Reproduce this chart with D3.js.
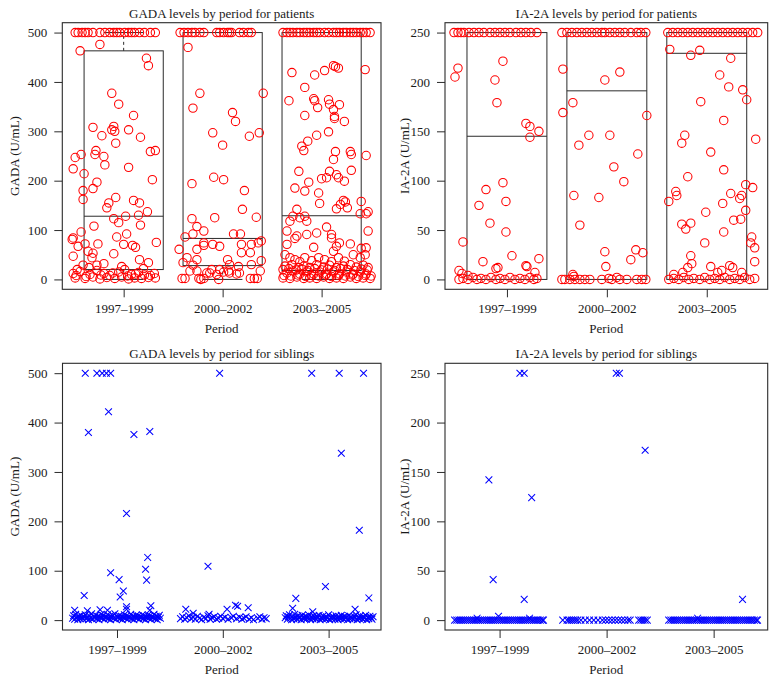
<!DOCTYPE html>
<html><head><meta charset="utf-8">
<script src="https://cdn.jsdelivr.net/npm/d3@7"></script>
<style>body{margin:0;background:#fff}svg{display:block}</style>
</head><body><svg id="c" width="776" height="682"></svg>
<script>
// ---------- DATA ----------
const periods = ["1997–1999", "2000–2002", "2003–2005"];
const gadaTicks = [0, 100, 200, 300, 400, 500];
const ia2aTicks = [0, 50, 100, 150, 200, 250];

// box stats: [lower whisker, Q1, median, Q3, upper whisker]
const gadaPatientBoxes = [[0, 20, 128, 463, 500], [0, 28, 83, 500, 500], [0, 18, 129, 500, 500]];
const ia2aPatientBoxes = [[0, 0, 145, 250, 250], [0, 0, 191, 250, 250], [0, 0, 229, 250, 250]];

// points: [jitter offset from period centre, value]
const gadaPatients1997 = [
  [-0.49,500],[-0.46,500],[-0.42,500],[-0.39,500],[-0.36,500],[-0.31,500],[-0.24,500],[-0.19,500],[-0.14,500],[-0.10,500],
  [-0.07,500],[-0.04,500],[0.01,500],[0.05,500],[0.08,500],[0.11,500],[0.16,500],[0.21,500],[0.27,500],[0.32,500],
  [-0.44,463],[-0.24,476],[0.23,448],[0.25,433],[-0.12,377],[-0.05,355],[0.10,332],[-0.31,308],[-0.22,291],[-0.12,303],
  [-0.09,300],[-0.10,310],[0.05,303],[0.17,288],[-0.08,276],[0.27,259],[0.32,261],[-0.49,247],[-0.43,253],[-0.51,224],
  [-0.28,261],[-0.29,253],[-0.20,249],[-0.19,232],[-0.40,214],[0.05,227],[-0.27,197],[-0.31,184],[-0.41,180],[-0.41,162],
  [-0.08,166],[-0.15,155],[-0.17,145],[0.10,160],[0.16,155],[0.29,202],[0.24,137],[0.15,130],[0.02,128],[-0.10,123],
  [-0.05,115],[0.17,110],[-0.30,108],[-0.43,96],[-0.51,84],[-0.52,81],[0.03,92],[-0.07,86],[-0.26,72],[-0.39,72],
  [-0.46,67],[0.00,71],[0.09,69],[0.12,65],[0.33,75],[-0.36,57],[-0.31,53],[-0.51,47],[-0.32,44],[-0.10,52],
  [-0.20,32],[0.16,40],[0.25,34],[-0.27,29],[-0.41,29],[-0.35,24],[-0.02,26],[0.20,22],[-0.47,20],
  [-0.51,12],[-0.44,16],[-0.34,10],[-0.27,18],[-0.20,12],[-0.14,8],[-0.05,15],[0.01,20],[0.08,10],[0.15,14],[0.21,9],
  [-0.48,8],[-0.38,6],[-0.23,9],[-0.11,13],[0.04,7],[0.12,11],[0.27,8],[0.31,12],
  [-0.49,3],[-0.39,2],[-0.31,5],[-0.24,1],[-0.17,4],[-0.09,2],[-0.02,5],[0.05,1],[0.11,3],[0.18,2],[0.25,4],[0.32,3]
];
const gadaPatients2000 = [
  [-0.43,500],[-0.39,500],[-0.35,500],[-0.31,500],[-0.28,500],[-0.23,500],[-0.19,500],[-0.06,500],[-0.03,500],[0.01,500],
  [0.05,500],[0.07,500],[0.09,500],[0.17,500],[0.21,500],[0.26,500],[0.29,500],
  [-0.35,470],[-0.23,377],[0.41,377],[-0.30,347],[0.10,338],[0.13,320],[-0.10,297],[0.27,290],[0.37,297],
  [0.00,272],[-0.31,194],[-0.09,207],[0.01,202],[0.22,180],[0.20,142],[0.34,126],[-0.31,123],[-0.08,125],[-0.26,107],
  [-0.30,92],[-0.19,98],[0.11,92],[0.18,92],[-0.38,86],[0.39,78],[0.36,74],[0.29,71],[-0.44,61],[-0.26,61],
  [-0.19,74],[-0.19,69],[-0.10,71],[-0.03,67],[0.19,71],[0.19,54],[0.28,54],[-0.36,44],[-0.26,40],[0.05,40],
  [0.07,30],[0.16,26],[-0.40,34],[-0.30,29],[0.39,38],[0.29,30],
  [-0.41,2],[-0.38,2],[-0.24,2],[-0.22,0],[-0.19,2],[-0.16,13],[-0.13,13],[-0.06,10],[-0.03,20],[0.01,15],
  [0.06,17],[0.07,13],[0.14,11],[0.17,13],[0.28,2],[0.32,2],[0.35,2],[0.38,17],[-0.33,17],[-0.26,17],[-0.11,20],[-0.04,0]
];
const gadaPatients2003 = [
  [-0.39,500],[-0.35,500],[-0.32,500],[-0.29,500],[-0.25,500],[-0.22,500],[-0.18,500],[-0.15,500],[-0.12,500],[-0.08,500],
  [-0.05,500],[-0.02,500],[0.03,500],[0.07,500],[0.12,500],[0.15,500],[0.18,500],[0.22,500],[0.25,500],[0.29,500],
  [0.32,500],[0.35,500],[0.39,500],[0.42,500],[0.45,500],[0.49,500],
  [-0.30,419],[-0.07,414],[0.03,423],[0.12,433],[0.14,431],[0.17,428],[0.44,425],[-0.17,389],[-0.33,362],[-0.08,366],
  [-0.07,362],[-0.04,348],[0.07,364],[0.08,355],[0.18,354],[-0.17,332],[0.12,344],[0.13,330],[0.13,326],[0.23,320],
  [-0.05,292],[0.07,299],[-0.20,270],[-0.18,261],[-0.14,280],[0.14,259],[0.29,259],[0.30,253],[0.45,251],[0.12,243],
  [-0.23,219],[-0.13,197],[-0.27,185],[-0.17,179],[-0.03,175],[-0.02,154],[0.00,204],[0.05,206],[0.08,219],[0.15,212],
  [0.17,206],[0.23,199],[0.30,221],[0.22,160],[0.24,157],[0.19,152],[0.26,145],[0.15,143],[0.40,158],[0.39,133],
  [0.47,137],[0.45,133],[-0.25,142],[-0.29,128],[-0.22,125],[-0.17,128],[-0.15,118],[-0.32,118],[-0.35,98],[-0.25,88],
  [-0.27,83],[-0.15,91],[-0.05,94],[0.05,106],[0.10,91],[0.10,84],[0.47,98],[-0.35,71],[-0.08,65],[0.12,57],
  [0.15,67],[0.18,74],[0.29,72],[0.40,63],[0.45,64],
  [-0.37,50],[-0.32,44],[-0.27,40],[-0.22,36],[-0.17,44],[-0.10,38],[-0.03,44],[0.03,40],[0.10,36],[0.17,44],
  [0.23,37],[0.32,50],[0.39,44],[0.44,50],
  [-0.37,27],[-0.30,30],[-0.23,24],[-0.18,27],[-0.12,24],[-0.05,30],[0.02,25],[0.08,29],[0.15,24],[0.22,27],
  [0.29,30],[0.35,25],[0.42,29],[0.47,24],
  [-0.39,20],[-0.33,22],[-0.26,19],[-0.20,21],[-0.14,18],[-0.07,22],[0.00,19],[0.06,21],[0.13,18],[0.19,22],
  [0.26,20],[0.33,18],[0.40,21],[0.46,19],
  [-0.35,13],[-0.29,17],[-0.22,11],[-0.15,15],[-0.08,11],[-0.02,15],[0.05,11],[0.12,15],[0.18,11],[0.25,15],
  [0.32,11],[0.39,15],[0.45,11],
  [-0.38,8],[-0.31,7],[-0.24,9],[-0.16,6],[-0.10,8],[-0.03,7],[0.04,9],[0.10,6],[0.17,8],[0.24,7],
  [0.31,9],[0.37,6],[0.44,8],[0.50,7],
  [-0.39,3],[-0.32,2],[-0.25,5],[-0.18,2],[-0.12,3],[-0.05,2],[0.02,5],[0.08,2],[0.15,3],[0.22,2],
  [0.29,5],[0.35,2],[0.42,3],[0.49,2]
];

const ia2aPatients1997 = [
  [-0.53,250],[-0.49,250],[-0.46,250],[-0.43,250],[-0.38,250],[-0.33,250],[-0.28,250],[-0.23,250],[-0.17,250],[-0.12,250],
  [-0.07,250],[-0.02,250],[0.03,250],[0.09,250],[0.14,250],[0.19,250],[0.24,250],[0.30,250],
  [-0.52,205],[-0.49,214],[-0.04,221],[-0.12,202],[-0.10,179],[0.19,158],[0.23,155],[0.23,144],[0.32,150],[-0.44,38],
  [-0.28,75],[-0.21,91],[-0.17,57],[-0.04,98],[-0.01,79],[-0.01,48],[-0.24,18],[-0.11,11],[-0.09,12],[0.05,24],
  [0.19,14],[0.20,13],[0.32,21],[0.28,7],[-0.48,9],[-0.45,6],[-0.39,4],
  [-0.48,0],[-0.44,1],[-0.39,0],[-0.34,2],[-0.30,0],[-0.26,1],[-0.21,0],[-0.16,2],[-0.11,0],[-0.07,1],
  [-0.02,0],[0.03,2],[0.08,0],[0.13,1],[0.18,0],[0.23,2],[0.27,0],[0.30,1]
];
const ia2aPatients2000 = [
  [-0.45,250],[-0.40,250],[-0.35,250],[-0.30,250],[-0.25,250],[-0.20,250],[-0.15,250],[-0.10,250],[-0.05,250],[-0.02,250],
  [0.03,250],[0.08,250],[0.13,250],[0.18,250],[0.24,250],[0.30,250],[0.34,250],[0.39,250],
  [-0.44,213],[-0.44,169],[-0.34,179],[-0.28,136],[-0.18,146],[-0.33,85],[-0.27,55],[-0.08,83],[-0.02,202],[0.13,210],
  [0.03,146],[0.07,114],[0.17,99],[0.31,127],[0.40,166],[-0.02,28],[-0.01,13],[0.24,20],[0.29,30],[0.36,27],
  [-0.34,5],[-0.33,3],
  [-0.45,0],[-0.42,0],[-0.37,0],[-0.32,0],[-0.27,0],[-0.22,0],[-0.17,0],[-0.05,0],[0.02,1],[0.05,0],
  [0.10,2],[0.13,0],[0.20,0],[0.30,0],[0.35,0],[0.39,0]
];
const ia2aPatients2003 = [
  [-0.39,250],[-0.34,250],[-0.29,250],[-0.24,250],[-0.19,250],[-0.14,250],[-0.09,250],[-0.04,250],[0.01,250],[0.06,250],
  [0.11,250],[0.16,250],[0.21,250],[0.26,250],[0.31,250],[0.36,250],[0.41,250],[0.46,250],[0.51,250],
  [-0.37,233],[-0.16,227],[-0.07,232],[0.24,224],[0.13,207],[-0.06,180],[0.22,195],[0.36,192],[0.40,182],[0.17,161],
  [-0.22,146],[-0.25,138],[0.49,142],[0.04,129],[0.17,111],[-0.19,104],[-0.38,79],[-0.31,89],[-0.30,85],[0.24,87],
  [0.39,96],[0.46,93],[0.33,82],[0.35,85],[0.16,77],[0.39,70],[-0.01,68],[0.27,60],[0.34,61],[-0.25,56],
  [-0.21,51],[-0.16,57],[0.17,48],[-0.02,37],[0.45,43],[0.44,37],[0.48,32],[0.48,18],[-0.16,24],[-0.15,16],
  [-0.19,12],[0.04,13],[0.23,14],[0.26,12],[0.15,9],[0.11,7],[0.35,7],[-0.24,7],[-0.33,5],
  [-0.38,0],[-0.33,1],[-0.28,0],[-0.23,2],[-0.18,0],[-0.13,1],[-0.07,0],[-0.02,2],[0.03,0],[0.08,1],
  [0.13,0],[0.18,2],[0.23,0],[0.28,1],[0.33,0],[0.38,2],[0.43,0],[0.48,1]
];

const gadaSiblings1997 = [
  [-0.30,500],[-0.19,500],[-0.14,500],[-0.10,500],[-0.06,500],[-0.27,380],[-0.08,422],[0.16,376],[0.31,382],[0.09,216],
  [-0.06,96],[0.02,82],[0.03,47],[0.06,59],[0.09,27],[0.29,127],[0.27,103],[0.28,81],[0.32,29],[-0.31,50],
  [-0.40,20],[-0.28,19],[-0.16,21],[-0.09,20],[0.09,22],[0.31,20],
  [-0.42,4],[-0.41,9],[-0.40,2],[-0.39,12],[-0.38,6],[-0.37,1],[-0.36,8],[-0.35,3],[-0.34,10],[-0.33,5],
  [-0.32,2],[-0.31,7],[-0.30,11],[-0.29,3],[-0.28,6],[-0.27,1],[-0.26,9],[-0.25,4],[-0.24,13],[-0.23,2],
  [-0.22,7],[-0.21,5],[-0.20,10],[-0.19,3],[-0.18,8],[-0.17,1],[-0.16,6],[-0.15,12],[-0.14,4],[-0.13,9],
  [-0.12,2],[-0.11,7],[-0.10,5],[-0.09,11],[-0.08,3],[-0.07,8],[-0.06,1],[-0.05,6],[-0.04,10],[-0.03,4],
  [-0.02,13],[-0.01,2],[0.00,7],[0.01,5],[0.02,9],[0.03,3],[0.04,8],[0.05,1],[0.06,6],[0.07,11],
  [0.08,4],[0.09,9],[0.10,2],[0.11,7],[0.12,5],[0.13,12],[0.14,3],[0.15,8],[0.16,1],[0.17,6],
  [0.18,10],[0.19,4],[0.20,9],[0.21,2],[0.22,7],[0.23,5],[0.24,11],[0.25,3],[0.26,8],[0.27,1],
  [0.28,6],[0.29,10],[0.30,4],[0.31,9],[0.32,2],[0.33,7],[0.34,5],[0.35,12],[0.36,3],[0.37,8],
  [0.38,1],[0.39,6],[0.40,10],[0.41,4]
];
const gadaSiblings2000 = [
  [-0.03,500],[-0.14,109],[-0.35,22],[-0.28,14],[0.04,22],[0.12,30],[0.14,28],[0.24,25],[-0.13,12],
  [-0.40,3],[-0.38,7],[-0.36,2],[-0.34,5],[-0.32,9],[-0.30,3],[-0.28,6],[-0.26,2],[-0.24,8],[-0.22,4],
  [-0.20,1],[-0.18,6],[-0.16,3],[-0.14,9],[-0.12,2],[-0.10,5],[-0.08,7],[-0.06,2],[-0.04,4],[-0.02,8],
  [0.00,3],[0.02,6],[0.05,2],[0.08,5],[0.10,8],[0.13,3],[0.16,6],[0.18,2],[0.20,4],[0.22,7],
  [0.25,2],[0.27,5],[0.29,1],[0.33,4],[0.35,7],[0.37,2],[0.39,5],[0.41,3]
];
const gadaSiblings2003 = [
  [-0.16,500],[0.10,500],[0.33,500],[0.12,338],[0.29,182],[-0.03,68],[-0.31,44],[0.38,45],[-0.34,24],[0.25,22],[-0.15,17],
  [-0.41,5],[-0.40,9],[-0.39,2],[-0.38,7],[-0.37,11],[-0.36,4],[-0.35,1],[-0.34,8],[-0.33,3],[-0.32,12],
  [-0.31,6],[-0.30,2],[-0.29,9],[-0.28,4],[-0.27,7],[-0.26,1],[-0.25,10],[-0.24,5],[-0.23,3],[-0.22,8],
  [-0.21,2],[-0.20,6],[-0.19,11],[-0.18,4],[-0.17,1],[-0.16,7],[-0.15,3],[-0.14,9],[-0.13,5],[-0.12,2],
  [-0.11,8],[-0.10,4],[-0.09,10],[-0.08,1],[-0.07,6],[-0.06,3],[-0.05,9],[-0.04,5],[-0.03,2],[-0.02,7],
  [-0.01,4],[0.00,11],[0.01,1],[0.02,6],[0.03,3],[0.04,8],[0.05,5],[0.06,2],[0.07,9],[0.08,4],
  [0.09,1],[0.10,7],[0.11,3],[0.12,10],[0.13,5],[0.14,2],[0.15,8],[0.16,4],[0.17,6],[0.18,1],
  [0.19,9],[0.20,3],[0.21,7],[0.22,5],[0.23,2],[0.24,8],[0.25,4],[0.26,11],[0.27,1],[0.28,6],
  [0.29,3],[0.30,9],[0.31,5],[0.32,2],[0.33,7],[0.34,4],[0.35,10],[0.36,1],[0.37,6],[0.38,3],
  [0.39,8],[0.40,5],[0.41,2],[0.42,7]
];

const ia2aSiblings1997 = [
  [0.19,250],[0.23,250],[-0.10,142],[-0.06,41],[0.23,21],[0.30,124],[-0.01,4],[-0.21,2],[0.28,2],
  [-0.42,0],[-0.40,0],[-0.38,0],[-0.36,0],[-0.34,0],[-0.32,0],[-0.30,0],[-0.28,0],[-0.26,0],[-0.24,0],
  [-0.22,0],[-0.20,0],[-0.18,0],[-0.16,0],[-0.14,0],[-0.12,0],[-0.10,0],[-0.08,0],[-0.06,0],[-0.04,0],
  [-0.02,0],[0.00,0],[0.02,0],[0.04,0],[0.06,0],[0.08,0],[0.10,0],[0.12,0],[0.14,0],[0.16,0],
  [0.18,0],[0.20,0],[0.22,0],[0.24,0],[0.26,0],[0.28,0],[0.30,0],[0.32,0],[0.34,0],[0.36,0],
  [0.38,0],[0.40,0],[0.41,0]
];
const ia2aSiblings2000 = [
  [0.09,250],[0.12,250],[0.36,172],
  [-0.41,0],[-0.37,0],[-0.35,0],[-0.33,0],[-0.31,0],[-0.29,0],[-0.27,0],[-0.24,0],[-0.20,0],[-0.16,0],
  [-0.12,0],[-0.08,0],[-0.04,0],[-0.01,0],[0.02,0],[0.05,0],[0.08,0],[0.11,0],[0.14,0],[0.17,0],
  [0.20,0],[0.22,0],[0.30,0],[0.32,0],[0.34,0],[0.36,0],[0.38,0]
];
const ia2aSiblings2003 = [
  [0.27,21],[-0.15,2],
  [-0.42,0],[-0.40,0],[-0.38,0],[-0.36,0],[-0.34,0],[-0.32,0],[-0.30,0],[-0.28,0],[-0.26,0],[-0.24,0],
  [-0.22,0],[-0.20,0],[-0.18,0],[-0.16,0],[-0.14,0],[-0.12,0],[-0.10,0],[-0.08,0],[-0.06,0],[-0.04,0],
  [-0.02,0],[0.00,0],[0.02,0],[0.04,0],[0.06,0],[0.08,0],[0.10,0],[0.12,0],[0.14,0],[0.16,0],
  [0.18,0],[0.20,0],[0.22,0],[0.24,0],[0.26,0],[0.28,0],[0.30,0],[0.32,0],[0.34,0],[0.36,0],
  [0.38,0],[0.40,0],[0.41,0]
];

// ---------- DRAWING ----------
const svg = d3.select("#c");
const FONT = "'Liberation Serif','Times New Roman',serif";
const FS = 13;
const LINE = "#2b2b2b";

function panel(cfg) {
  const x = d3.scaleLinear().domain(cfg.xDomain).range([cfg.x0, cfg.x1]);
  const y = d3.scaleLinear().domain(cfg.yDomain).range([cfg.y1, cfg.y0]);
  const g = svg.append("g");

  // boxes
  if (cfg.boxes) {
    cfg.boxes.forEach((b, i) => {
      const c = i + 1, hw = 0.4, cap = 0.2;
      const bg = g.append("g").attr("fill", "none").attr("stroke", LINE).attr("stroke-width", 1);
      bg.append("rect").attr("x", x(c - hw)).attr("y", y(b[3]))
        .attr("width", x(c + hw) - x(c - hw)).attr("height", y(b[1]) - y(b[3]));
      bg.append("line").attr("x1", x(c - hw)).attr("x2", x(c + hw)).attr("y1", y(b[2])).attr("y2", y(b[2]));
      if (b[4] > b[3]) {
        bg.append("line").attr("x1", x(c)).attr("x2", x(c)).attr("y1", y(b[3])).attr("y2", y(b[4])).attr("stroke-dasharray", "3,3");
        bg.append("line").attr("x1", x(c - cap)).attr("x2", x(c + cap)).attr("y1", y(b[4])).attr("y2", y(b[4]));
      }
      if (b[0] < b[1]) {
        bg.append("line").attr("x1", x(c)).attr("x2", x(c)).attr("y1", y(b[1])).attr("y2", y(b[0])).attr("stroke-dasharray", "3,3");
        bg.append("line").attr("x1", x(c - cap)).attr("x2", x(c + cap)).attr("y1", y(b[0])).attr("y2", y(b[0]));
      }
    });
  }

  // points
  cfg.groups.forEach((pts, i) => {
    const c = i + 1;
    const pg = g.append("g");
    if (cfg.marker === "circle") {
      pg.selectAll("circle").data(pts).join("circle")
        .attr("cx", d => x(c + d[0])).attr("cy", d => y(d[1])).attr("r", 4.2)
        .attr("fill", "none").attr("stroke", "#ff0000").attr("stroke-width", 1.05);
    } else {
      const s = 3.4;
      pg.selectAll("path").data(pts).join("path")
        .attr("d", d => {
          const px = x(c + d[0]), py = y(d[1]);
          return `M${px - s},${py - s}L${px + s},${py + s}M${px - s},${py + s}L${px + s},${py - s}`;
        })
        .attr("fill", "none").attr("stroke", "#0000ff").attr("stroke-width", 1.05);
    }
  });

  // axes
  const xa = g.append("g").attr("transform", `translate(0,${cfg.y1})`)
    .call(d3.axisBottom(x).tickValues([1, 2, 3]).tickFormat((d, i) => periods[i]).tickSize(8).tickPadding(6.5));
  const ya = g.append("g").attr("transform", `translate(${cfg.x0},0)`)
    .call(d3.axisLeft(y).tickValues(cfg.ticks).tickSize(8).tickPadding(7));
  [xa, ya].forEach(a => {
    a.select(".domain").remove();
    a.selectAll("line").attr("stroke", LINE);
    a.selectAll("text").attr("font-family", FONT).attr("font-size", FS).attr("fill", "#1a1a1a");
  });

  // frame
  g.append("rect").attr("x", cfg.x0).attr("y", cfg.y0).attr("width", cfg.x1 - cfg.x0).attr("height", cfg.y1 - cfg.y0)
    .attr("fill", "none").attr("stroke", LINE).attr("stroke-width", 1.1);

  // labels
  g.append("text").attr("x", (cfg.x0 + cfg.x1) / 2).attr("y", cfg.y0 - 5).attr("text-anchor", "middle")
    .attr("font-family", FONT).attr("font-size", FS).attr("fill", "#1a1a1a").text(cfg.title);
  g.append("text").attr("x", (cfg.x0 + cfg.x1) / 2).attr("y", cfg.y1 + 44).attr("text-anchor", "middle")
    .attr("font-family", FONT).attr("font-size", FS).attr("fill", "#1a1a1a").text("Period");
  g.append("text").attr("transform", `translate(${cfg.ylabX},${(cfg.y0 + cfg.y1) / 2}) rotate(-90)`)
    .attr("text-anchor", "middle").attr("font-family", FONT).attr("font-size", FS).attr("fill", "#1a1a1a").text(cfg.ylab);
}

panel({ x0: 62.3, x1: 381, y0: 22.7, y1: 289.3, xDomain: [0.38, 3.6], yDomain: [-20, 520], ticks: gadaTicks,
  title: "GADA levels by period for patients", ylab: "GADA (U/mL)", ylabX: 19,
  boxes: gadaPatientBoxes, groups: [gadaPatients1997, gadaPatients2000, gadaPatients2003], marker: "circle" });
panel({ x0: 445, x1: 767.7, y0: 22.7, y1: 289.3, xDomain: [0.38, 3.61], yDomain: [-10, 260], ticks: ia2aTicks,
  title: "IA-2A levels by period for patients", ylab: "IA-2A (U/mL)", ylabX: 409,
  boxes: ia2aPatientBoxes, groups: [ia2aPatients1997, ia2aPatients2000, ia2aPatients2003], marker: "circle" });
panel({ x0: 62.5, x1: 381, y0: 363.3, y1: 630, xDomain: [0.485, 3.495], yDomain: [-20, 520], ticks: gadaTicks,
  title: "GADA levels by period for siblings", ylab: "GADA (U/mL)", ylabX: 19,
  boxes: null, groups: [gadaSiblings1997, gadaSiblings2000, gadaSiblings2003], marker: "x" });
panel({ x0: 445, x1: 767.7, y0: 363.3, y1: 630, xDomain: [0.49, 3.505], yDomain: [-10, 260], ticks: ia2aTicks,
  title: "IA-2A levels by period for siblings", ylab: "IA-2A (U/mL)", ylabX: 409,
  boxes: null, groups: [ia2aSiblings1997, ia2aSiblings2000, ia2aSiblings2003], marker: "x" });
</script>
</body></html>
